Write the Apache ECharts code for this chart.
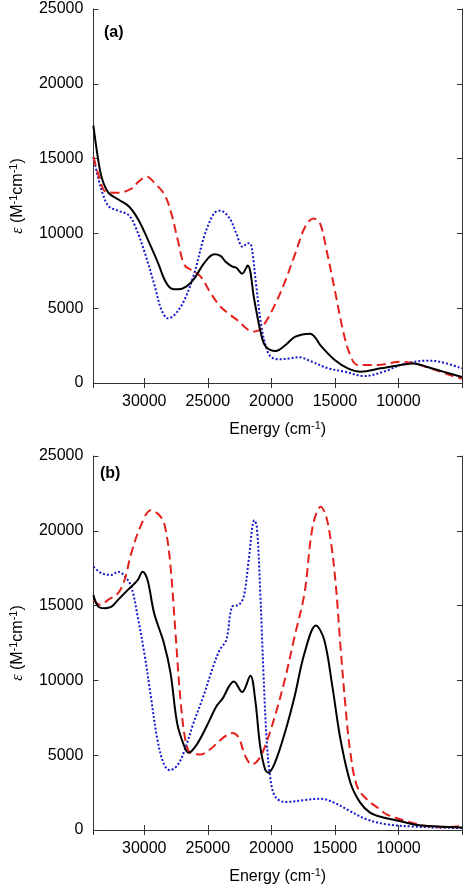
<!DOCTYPE html>
<html>
<head>
<meta charset="utf-8">
<script src="https://cdn.jsdelivr.net/npm/echarts@6/dist/echarts.min.js"></script>
<style>
html,body{margin:0;padding:0;background:#fff;}
#c{width:466px;height:888px;}
</style>
</head>
<body>
<div id="c"></div>
<script>
// Panel labels and axis ticks
var panelLabels = ['(a)', '(b)'];
var xTicks = [30000, 25000, 20000, 15000, 10000];
var yTicks = [0, 5000, 10000, 15000, 20000, 25000];

// Panel (a): [energy cm^-1, epsilon]
var aBlack = [[34000,17200],[33600,14800],[33300,13600],[32800,12700],[32000,12250],[31200,11800],[30450,10900],[29700,9550],[28900,8000],[28400,6900],[27900,6330],[27350,6260],[26700,6440],[26050,7000],[25300,8000],[24500,8600],[24000,8500],[23600,8100],[23100,7800],[22750,7700],[22300,7300],[21860,7850],[21340,5550],[20820,3320],[20430,2430],[19660,2140],[18880,2540],[18110,3100],[16950,3300],[16050,2430],[15010,1540],[13980,980],[12950,760],[11400,980],[9850,1200],[8820,1310],[7790,1090],[6490,760],[5000,400]];
var aRed = [[34000,15100],[33550,13790],[33030,12790],[32000,12720],[30970,13010],[30450,13460],[29800,13790],[29160,13350],[28390,12570],[27870,11340],[27360,9560],[26840,7890],[26200,7510],[25550,7100],[24770,6000],[24000,5100],[23220,4550],[22600,4150],[21980,3660],[21470,3430],[20950,3540],[20430,4100],[19660,5330],[18880,6880],[18110,8670],[17340,10450],[16690,11000],[16170,10670],[15660,8890],[15010,6220],[14370,3540],[13850,1990],[13210,1200],[11660,1200],[9850,1420],[8820,1320],[7270,915],[5720,470],[5000,280]];
var aBlue = [[34000,15100],[33650,13800],[33290,12700],[32780,11800],[32000,11500],[31230,11230],[30700,10450],[29940,8670],[29160,6440],[28640,4880],[28130,4320],[27610,4550],[26840,5550],[26060,7330],[25290,9780],[24510,11340],[24000,11520],[23280,11000],[22760,10000],[22250,9100],[21860,9340],[21600,9270],[21210,6660],[20820,3990],[20430,2430],[20045,1760],[19400,1580],[18500,1650],[17850,1720],[16820,1425],[15530,980],[14240,760],[12690,470],[11140,760],[9590,1270],[7790,1490],[6760,1425],[5000,980]];

// Panel (b)
var bBlack = [[34000,15700],[33610,14930],[33090,14820],[32575,14930],[32060,15380],[31290,16050],[30515,16710],[30130,17270],[29740,16710],[29220,14490],[28450,12490],[27930,10490],[27415,7160],[26900,5710],[26510,5160],[25870,5710],[25090,6930],[24320,8270],[23800,8830],[23330,9600],[22950,9930],[22300,9220],[21650,10310],[21270,8710],[20880,5600],[20490,4050],[20235,3830],[19720,4490],[18940,6490],[18170,8930],[17390,11830],[16490,13670],[15840,12710],[15200,9600],[14560,6050],[13780,3160],[13010,1830],[12230,1160],[11200,830],[9910,600],[8360,310],[6810,230],[5000,160]];
var bRed = [[34000,15380],[33480,15050],[32840,15380],[32060,15830],[31545,16710],[31025,18490],[30250,20380],[29480,21380],[28700,20930],[28310,20050],[27930,17600],[27540,13160],[27150,8710],[26770,6050],[26380,5160],[25600,5050],[24830,5380],[23800,6160],[23030,6490],[22560,6160],[22040,4930],[21530,4380],[21010,4710],[20490,5600],[19720,7600],[18940,10050],[18170,12930],[17390,15830],[16750,20270],[16110,21600],[15720,21050],[15330,19380],[14940,16490],[14560,12270],[14170,8270],[13780,5160],[13260,2930],[12490,2050],[11460,1380],[10940,1050],[9390,600],[7840,270],[6290,200],[5000,270]];
var bBlue = [[34000,17600],[33350,17160],[32575,17050],[32060,17270],[31545,16980],[31025,16270],[30515,14270],[29995,11830],[29480,8930],[28965,6050],[28450,4400],[27980,4000],[27415,4300],[26900,5160],[26120,7160],[25350,8930],[24575,10930],[24055,12050],[23540,12710],[23080,14930],[22560,15050],[22170,15600],[21780,18050],[21340,20700],[21140,20270],[20880,16050],[20620,10490],[20370,6050],[20100,3600],[19720,2270],[18940,1870],[17390,2000],[16110,2090],[15070,1830],[13780,1250],[12490,710],[10940,380],[8870,230],[6810,160],[5000,130]];

var FONT = 'Liberation Sans, Arial, sans-serif';
var frame = '#333';
var chart = echarts.init(document.getElementById('c'));

function xAxes(gi) {
  return [{
    type: 'value', gridIndex: gi, min: 5000, max: 34000, interval: 5000, inverse: true, position: 'bottom',
    axisLine: {show: true, lineStyle: {color: frame, width: 1}},
    axisTick: {show: true, inside: true, length: 5, lineStyle: {color: frame}},
    splitLine: {show: false},
    axisLabel: {margin: 11, color: '#000', fontSize: 16, fontFamily: FONT,
      showMaxLabel: false, showMinLabel: false,
      formatter: function (v) { return xTicks.indexOf(v) >= 0 ? String(v) : ''; }},
    name: 'Energy (cm{s|-1})', nameLocation: 'middle', nameGap: 37,
    nameTextStyle: {color: '#000', fontSize: 16, fontFamily: FONT, lineHeight: 20,
      rich: {s: {fontSize: 11, fontFamily: FONT, color: '#000', verticalAlign: 'top', lineHeight: 20, padding: [0,0,0,0]}}}
  }, {
    type: 'value', gridIndex: gi, min: 5000, max: 34000, interval: 5000, inverse: true, position: 'top',
    axisLine: {show: true, lineStyle: {color: frame, width: 1}},
    axisTick: {show: true, inside: true, length: 5, lineStyle: {color: frame}},
    axisLabel: {show: false}, splitLine: {show: false}
  }];
}
function yAxes(gi) {
  return [{
    type: 'value', gridIndex: gi, min: 0, max: 25000, interval: 5000, position: 'left',
    axisLine: {show: true, lineStyle: {color: frame, width: 1}},
    axisTick: {show: true, inside: true, length: 5, lineStyle: {color: frame}},
    splitLine: {show: false},
    axisLabel: {margin: 10, color: '#000', fontSize: 16, fontFamily: FONT,
      formatter: function (v) { return yTicks.indexOf(v) >= 0 ? String(v) : ''; }},
    name: '{e|ε} (M{s|-1}cm{s|-1})', nameLocation: 'middle', nameGap: 62,
    nameTextStyle: {color: '#000', fontSize: 16, fontFamily: FONT, lineHeight: 20,
      rich: {
        e: {fontSize: 16, fontStyle: 'italic', fontFamily: 'Liberation Serif, serif', color: '#000', lineHeight: 20},
        s: {fontSize: 11, fontFamily: FONT, color: '#000', verticalAlign: 'top', lineHeight: 20}
      }}
  }, {
    type: 'value', gridIndex: gi, min: 0, max: 25000, interval: 5000, position: 'right',
    axisLine: {show: true, lineStyle: {color: frame, width: 1}},
    axisTick: {show: true, inside: true, length: 5, lineStyle: {color: frame}},
    axisLabel: {show: false}, splitLine: {show: false}
  }];
}

function line(data, gi, color, type, width) {
  return {
    type: 'line', xAxisIndex: gi * 2, yAxisIndex: gi * 2, data: data,
    showSymbol: false, symbol: 'none', smooth: 0.35, animation: false,
    lineStyle: {color: color, width: width, type: type}, z: 3
  };
}

var RED = '#e3201b', BLUE = '#1515d0', BLACK = '#000';

chart.setOption({
  animation: false,
  backgroundColor: '#fff',
  title: [
    {text: panelLabels[0], left: 104, top: 25, padding: 0,
     textStyle: {fontSize: 16, fontWeight: 'bold', fontFamily: FONT, color: '#000'}},
    {text: panelLabels[1], left: 100, top: 466, padding: 0,
     textStyle: {fontSize: 16, fontWeight: 'bold', fontFamily: FONT, color: '#000'}}
  ],
  grid: [
    {left: 87, top: 9, width: 375, height: 374, containLabel: false},
    {left: 88, top: 456, width: 374, height: 375, containLabel: false}
  ],
  xAxis: xAxes(0).concat(xAxes(1)),
  yAxis: yAxes(0).concat(yAxes(1)),
  series: [
    line(aBlue, 0, BLUE, [2, 2], 2),
    line(aRed, 0, RED, [9, 5], 2),
    line(aBlack, 0, BLACK, 'solid', 2),
    line(bBlue, 1, BLUE, [2, 2], 2),
    line(bRed, 1, RED, [9, 5], 2),
    line(bBlack, 1, BLACK, 'solid', 2)
  ]
});
</script>
</body>
</html>
